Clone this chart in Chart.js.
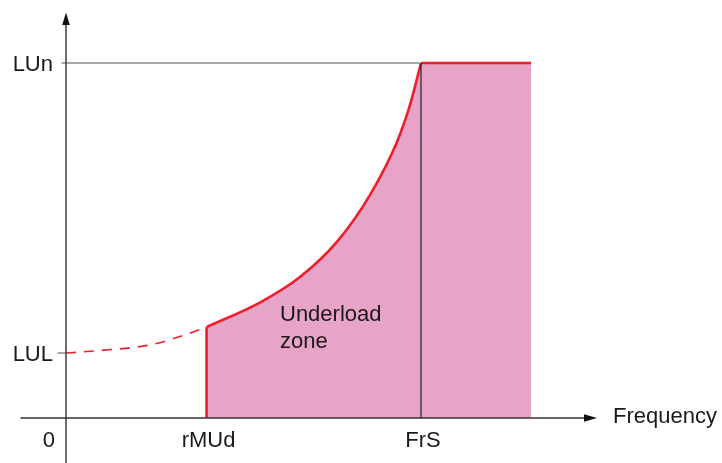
<!DOCTYPE html>
<html>
<head>
<meta charset="utf-8">
<script src="https://cdn.jsdelivr.net/npm/chart.js@4/dist/chart.umd.min.js"></script>
<style>
  html, body { margin: 0; padding: 0; background: #ffffff; }
  #wrap { width: 722px; height: 463px; }
</style>
</head>
<body>
<div id="wrap"><canvas id="c" width="722" height="463"></canvas></div>
<script>
// Underload detection: load threshold vs. motor frequency (FrS = 100 %, LUn = 100 %)
const freqTickValues = [0, 39.6, 100];
const freqTickLabels = ['0', 'rMUd', 'FrS'];
const loadTickValues = [18.3, 100];
const loadTickLabels = ['LUL', 'LUn'];

// Threshold curve below rMUd (not active, dashed)
const lowFreq = [0, 9.6, 23.7, 34.1, 39.6];
const lowLoad = [18.3, 19.0, 20.6, 23.6, 25.6];

// Threshold curve between rMUd and FrS
const curveFreq = [39.6, 54.6, 65.9, 76.3, 85.6, 93.2, 96.9, 100];
const curveLoad = [25.6, 32.5, 39.7, 49.6, 62.8, 77.7, 88.2, 100];

// Constant threshold LUn above FrS, up to the end of the zone
const highFreq = [100, 131];
const highLoad = [100, 100];

const zoneLabel = ['Underload', 'zone'];
const axisTitle = 'Frequency';

const RED = '#ee1f2a';
const PINK = '#e8a3c8';
const INK = '#222222';
const FONT = '"Liberation Sans", Arial, Helvetica, sans-serif';

const pts = (xs, ys) => xs.map((v, i) => ({ x: v, y: ys[i] }));

const diagram = {
  id: 'diagram',
  afterDatasetsDraw(chart) {
    const ctx = chart.ctx;
    const sx = chart.scales.x, sy = chart.scales.y;
    const x0 = sx.getPixelForValue(0);
    const y0 = sy.getPixelForValue(0);
    const yLUL = sy.getPixelForValue(loadTickValues[0]);
    const yLUn = sy.getPixelForValue(loadTickValues[1]);
    const xFrS = sx.getPixelForValue(freqTickValues[2]);

    ctx.save();
    // guide at LUn and tick at LUL
    ctx.strokeStyle = '#8a8a8a';
    ctx.lineWidth = 1.5;
    ctx.beginPath();
    ctx.moveTo(x0 - 4.5, yLUn); ctx.lineTo(xFrS - 1, yLUn);
    ctx.moveTo(x0 - 8.5, yLUL); ctx.lineTo(x0, yLUL);
    ctx.stroke();

    // FrS divider
    ctx.strokeStyle = INK;
    ctx.lineWidth = 1.2;
    ctx.beginPath();
    ctx.moveTo(xFrS, y0); ctx.lineTo(xFrS, yLUn);
    ctx.stroke();

    // axes
    ctx.strokeStyle = '#333333';
    ctx.lineWidth = 1.4;
    ctx.beginPath();
    ctx.moveTo(x0, chart.height); ctx.lineTo(x0, 24);
    ctx.moveTo(x0 - 45.5, y0); ctx.lineTo(586, y0);
    ctx.stroke();
    ctx.fillStyle = '#111111';
    ctx.beginPath();
    ctx.moveTo(x0, 12.5); ctx.lineTo(x0 - 3.8, 25); ctx.lineTo(x0 + 3.8, 25); ctx.closePath();
    ctx.fill();
    ctx.beginPath();
    ctx.moveTo(597, y0); ctx.lineTo(584, y0 - 3.8); ctx.lineTo(584, y0 + 3.8); ctx.closePath();
    ctx.fill();

    // texts
    ctx.fillStyle = '#1a1a1a';
    ctx.font = '22px ' + FONT;
    ctx.textBaseline = 'alphabetic';
    ctx.textAlign = 'right';
    loadTickLabels.forEach((t, i) => {
      ctx.fillText(t, x0 - 13, sy.getPixelForValue(loadTickValues[i]) + 7.5);
    });
    ctx.textAlign = 'center';
    freqTickLabels.forEach((t, i) => {
      if (i === 0) {
        ctx.textAlign = 'right';
        ctx.fillText(t, x0 - 11, 447);
        ctx.textAlign = 'center';
      } else {
        ctx.fillText(t, sx.getPixelForValue(freqTickValues[i]) + 2, 447);
      }
    });
    ctx.textAlign = 'left';
    ctx.fillText(axisTitle, 613, y0 + 5.5);

    ctx.font = '22px ' + FONT;
    ctx.fillText(zoneLabel[0], 280, 321);
    ctx.fillText(zoneLabel[1], 280, 348);
    ctx.restore();
  }
};

new Chart(document.getElementById('c'), {
  type: 'line',
  data: {
    datasets: [
      {
        label: 'below rMUd',
        data: pts(lowFreq, lowLoad),
        borderColor: RED,
        borderWidth: 1.6,
        borderDash: [10, 8],
        cubicInterpolationMode: 'monotone',
        fill: false,
        order: 1
      },
      {
        label: 'threshold',
        data: pts(curveFreq, curveLoad),
        borderColor: RED,
        borderWidth: 2.6,
        backgroundColor: PINK,
        cubicInterpolationMode: 'monotone',
        fill: 'origin',
        order: 2
      },
      {
        label: 'LUn',
        data: pts(highFreq, highLoad),
        borderColor: RED,
        borderWidth: 2.6,
        backgroundColor: PINK,
        fill: 'origin',
        order: 3
      },
      {
        label: 'rMUd limit',
        data: pts([curveFreq[0], curveFreq[0]], [0, curveLoad[0]]),
        borderColor: RED,
        borderWidth: 2.6,
        fill: false,
        order: 0
      }
    ]
  },
  options: {
    responsive: false,
    animation: false,
    devicePixelRatio: 1,
    layout: { padding: 0 },
    elements: { point: { radius: 0, hoverRadius: 0 }, line: { borderCapStyle: 'butt' } },
    plugins: { legend: { display: false }, tooltip: { enabled: false } },
    scales: {
      x: { type: 'linear', min: -18.59, max: 184.79, display: false },
      y: { type: 'linear', min: -12.68, max: 117.75, display: false }
    }
  },
  plugins: [diagram]
});
</script>
</body>
</html>
